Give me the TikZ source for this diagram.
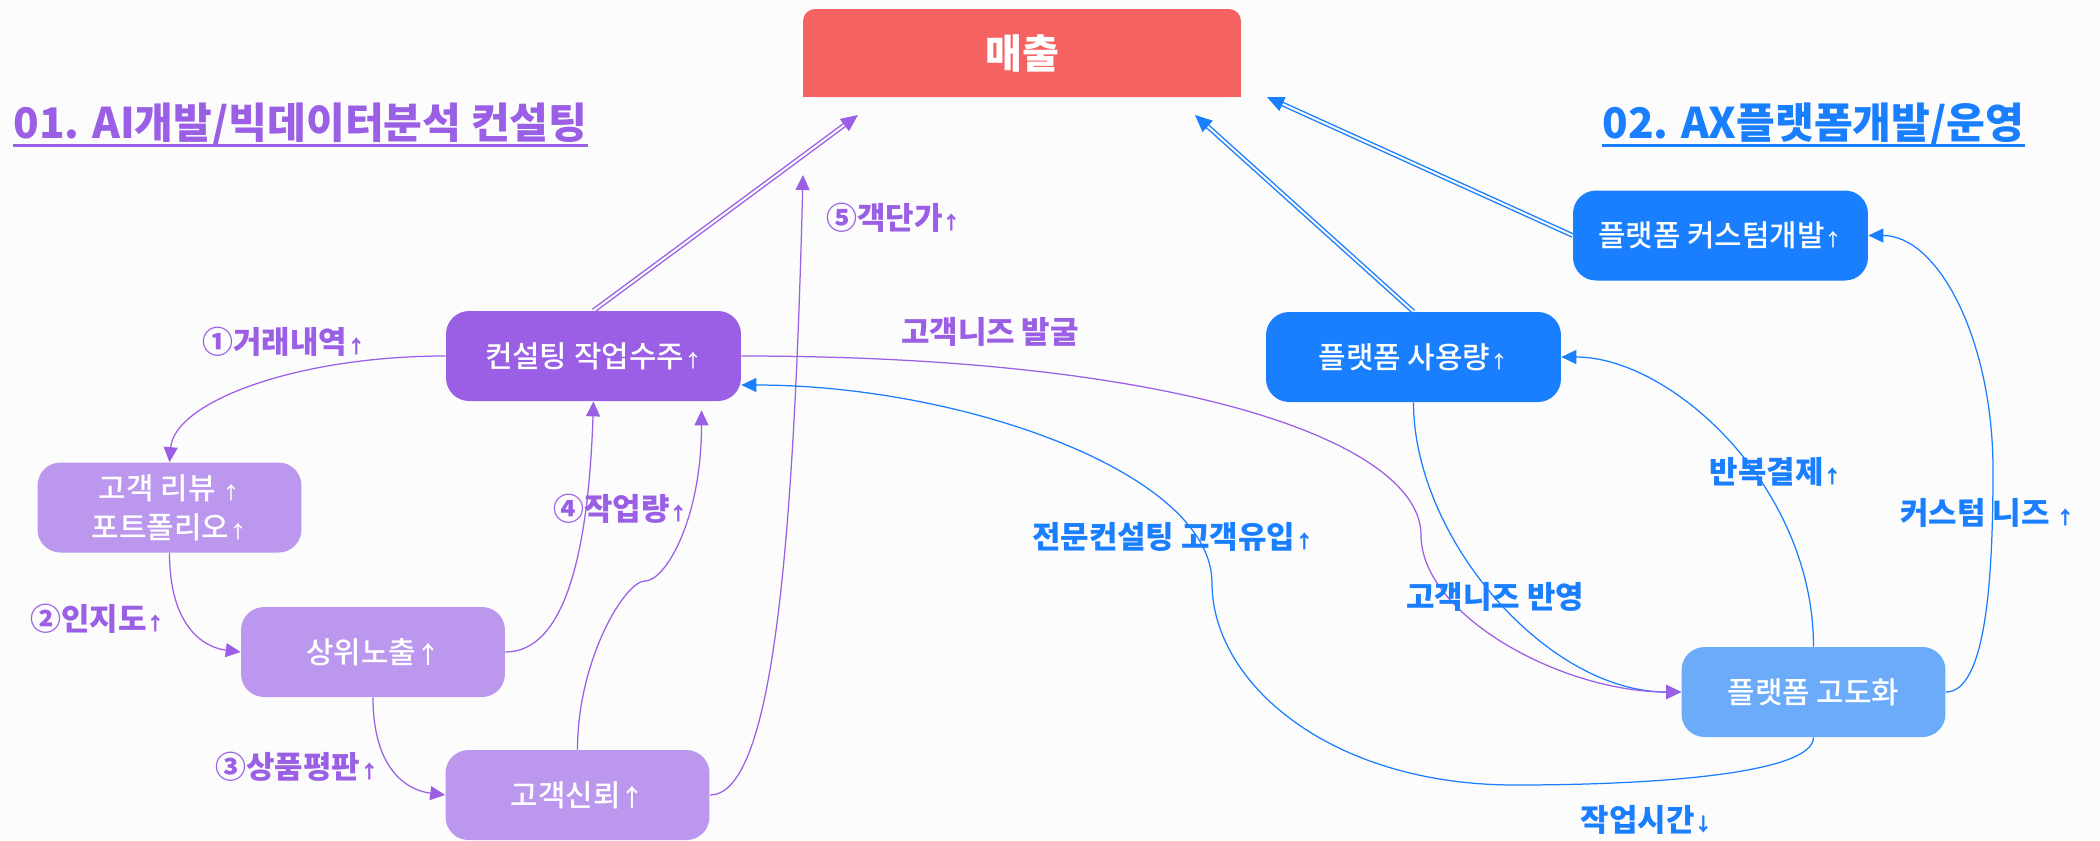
\documentclass[tikz,border=0pt]{standalone}
\usepackage{fontspec}
\setmainfont{Noto Sans CJK KR}
\newfontfamily\medfont{Noto Sans CJK KR}[UprightFont={* Medium}]
\usetikzlibrary{calc,arrows.meta}
\definecolor{salesred}{HTML}{F56262}
\definecolor{conpurple}{HTML}{9A5FE4}
\definecolor{litepurple}{HTML}{BB97ED}
\definecolor{platblue}{HTML}{1A7FFF}
\definecolor{liteblue}{HTML}{6BABFA}
\definecolor{bgcol}{HTML}{FCFCFD}
\newcommand{\upsm}{\scalebox{0.6}{↑}}
\newcommand{\dnsm}{\scalebox{0.6}{↓}}
\newcommand{\upbig}{\scalebox{0.8}{↑}}

\begin{document}
\begin{tikzpicture}[x=0.02cm,y=-0.02cm]
        \tikzstyle{every node}=[inner sep=0pt]
        \tikzstyle{box}=[rounded corners=0.46cm, minimum width=5.9cm, minimum height=1.8cm, text=white, align=center, font=\fontsize{17}{22}\selectfont\medfont]
        \tikzstyle{smallbox}=[box, minimum width=5.28cm]
        \tikzstyle{lbl}=[font=\fontsize{17.6}{20}\selectfont\bfseries]
        \tikzstyle{title}=[font=\fontsize{24}{26}\selectfont\bfseries, anchor=base west]
        \tikzstyle{link}=[line width=0.025cm, -{Triangle[length=0.3cm,width=0.28cm]}]
        \tikzstyle{dbl}=[line width=0.028cm, double=bgcol, double distance=0.04cm, -{Triangle[length=0.34cm,width=0.3cm]}]

        \useasboundingbox (0,0) rectangle (2100,840);
        \fill[bgcol] (0,0) rectangle (2100,840);

        \node[title, text=conpurple] (t1) at (13,138) {01. AI개발/빅데이터분석 컨설팅};
        \draw[conpurple, line width=0.06cm] ($(t1.base west)+(0,7)$) -- ($(t1.base east)+(0,7)$);
        \node[title, text=platblue] (t2) at (1602,138) {02. AX플랫폼개발/운영};
        \draw[platblue, line width=0.06cm] ($(t2.base west)+(0,7)$) -- ($(t2.base east)+(0,7)$);

        \node[minimum width=8.76cm, minimum height=1.76cm, fill=salesred, rounded corners=0.24cm] (s) at (1022,53) {};
        \fill[salesred] (s.west) rectangle (s.south east);
        \node[text=white, font=\fontsize{22.8}{24}\selectfont\bfseries] (st) at (s) {매출};

        \node[box, fill=conpurple] (c) at (593.5,356) {컨설팅 작업수주\upsm};
        \node[smallbox, fill=litepurple] (r) at (169.5,507.5) {고객 리뷰 \upsm\\포트폴리오\upsm};
        \node[smallbox, fill=litepurple] (e) at (373,652) {상위노출\upbig};
        \node[smallbox, fill=litepurple] (t) at (577.5,795) {고객신뢰\upbig};
        \node[box, fill=platblue] (k) at (1720.5,235.5) {플랫폼 커스텀개발\upsm};
        \node[box, fill=platblue] (u) at (1413.5,357) {플랫폼 사용량\upsm};
        \node[smallbox, fill=liteblue] (g) at (1813.5,692) {플랫폼 고도화};

        \coordinate (s1) at (858,115);
        \coordinate (s2) at (1195,115);
        \coordinate (s3) at (1267,97);
        \coordinate (s5) at (803,175);
        \coordinate (tk) at (645,581);
        \coordinate (cb) at ($(c.south)+(108,9)$);
        \coordinate (pk) at (1421,535);
        \coordinate (kc) at (1993,470);
        \coordinate (wb) at (1515,785);
        \coordinate (wk) at (1212,583);
        \coordinate (ce) at ($(c.east)+(0,29)$);

        \draw[dbl, conpurple] (c.north) -- (s1);
        \draw[dbl, platblue] (u.north) -- (s2);
        \draw[dbl, platblue] (k.west) -- (s3);

        \draw[link, conpurple] (c.west) .. controls +(-150,0) and +(5,-60) .. (r.north);
        \draw[link, conpurple] (r.south) .. controls +(0,70) and +(-40,-5) .. (e.west);
        \draw[link, conpurple] (e.south) .. controls +(0,70) and +(-40,-5) .. (t.west);
        \draw[link, conpurple] (e.east) .. controls +(60,0) and +(-5,150) .. (c.south);
        \draw[link, conpurple] (t.north) .. controls +(0,-90) and +(-20,0) .. (tk) .. controls +(20,0) and +(0,110) .. (cb);
        \draw[link, conpurple] (t.east) .. controls +(60,0) and +(-10,400) .. (s5);

        \draw[link, platblue] (u.south) .. controls +(0,135) and +(-135,0) .. (g.west);
        \draw[link, platblue] (g.north) .. controls +(0,-160) and +(110,0) .. (u.east);
        \draw[link, platblue] (g.east) .. controls +(40,0) and +(0,110) .. (kc) .. controls +(0,-130) and +(70,0) .. (k.east);
        \draw[link, platblue] (g.south) .. controls +(0,35) and +(150,0) .. (wb) .. controls +(-185,0) and +(0,100) .. (wk) .. controls +(0,-110) and +(220,0) .. (ce);
        \draw[link, conpurple] (c.east) .. controls +(450,0) and +(0,-90) .. (pk) .. controls +(0,80) and +(-120,0) .. (g.west);

        \node[lbl, text=conpurple] (n1) at (284,342) {①거래내역\upsm};
        \node[lbl, text=conpurple] (n2) at (98,619) {②인지도\upsm};
        \node[lbl, text=conpurple] (n3) at (297,767) {③상품평판\upsm};
        \node[lbl, text=conpurple] (n4) at (621,509) {④작업량\upsm};
        \node[lbl, text=conpurple] (n5) at (894,218) {⑤객단가\upsm};
        \node[lbl, text=conpurple] (m1) at (990,332) {고객니즈 발굴};
        \node[lbl, text=platblue] (m2) at (1173,537) {전문컨설팅 고객유입\upsm};
        \node[lbl, text=platblue] (m3) at (1495,597) {고객니즈 반영};
        \node[lbl, text=platblue] (m4) at (1776,472) {반복결제\upsm};
        \node[lbl, text=platblue] (m5) at (1988,513) {커스텀 니즈 \upsm};
        \node[lbl, text=platblue] (m6) at (1647,820) {작업시간\dnsm};
    \end{tikzpicture}
\end{document}
